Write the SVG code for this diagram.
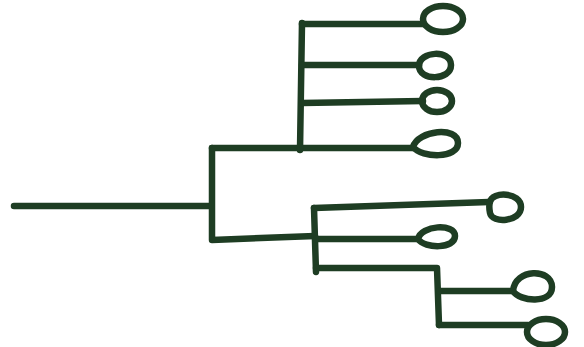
<svg xmlns="http://www.w3.org/2000/svg" width="584" height="347" viewBox="0 0 584 347">
  <style>
    .ln { fill: none; stroke: #1e3d23; stroke-width: 6.5; stroke-linecap: round; stroke-linejoin: round; }
  </style>
  <rect width="584" height="347" fill="#ffffff"/>
  <g id="connectors">
    <path class="ln" d="M14 206 H210"/>
    <path class="ln" d="M212 148 V240 L315 236"/>
    <path class="ln" d="M212 148 H413"/>
    <path class="ln" d="M302 23 L300 150"/>
    <path class="ln" d="M302 24 H423"/>
    <path class="ln" d="M302 65 H419"/>
    <path class="ln" d="M302 103 L423 101"/>
    <path class="ln" d="M314 208 L316 272"/>
    <path class="ln" d="M314 208 L489 202"/>
    <path class="ln" d="M316 239 H418"/>
    <path class="ln" d="M316 268 H437 L439 325"/>
    <path class="ln" d="M439 291 H513"/>
    <path class="ln" d="M439 325 H528"/>
  </g>
  <g id="leaf1"><ellipse class="ln" cx="443" cy="19" rx="20" ry="13"/></g>
  <g id="leaf2"><path class="ln" d="M419 66 C419 51 451 49 451 65 C451 81 419 81 419 66 Z"/></g>
  <g id="leaf3"><ellipse class="ln" cx="437" cy="101" rx="15" ry="11"/></g>
  <g id="leaf4"><path class="ln" d="M413 147 C418 130 458 126 458 143 C458 159 422 158 413 147 Z"/></g>
  <g id="leaf5"><path class="ln" d="M490 202 C492 191 521 192 521 207 C521 222 492 224 490 213 C489 208 489 205 490 202 Z"/></g>
  <g id="leaf6"><path class="ln" d="M418 239 C421 225 455 223 455 236 C455 249 425 249 418 239 Z"/></g>
  <g id="leaf7"><path class="ln" d="M513 291 C515 268 552 268 552 287 C552 304 520 302 513 291 Z"/></g>
  <g id="leaf8"><ellipse class="ln" cx="546" cy="332" rx="19" ry="13"/></g>
</svg>
